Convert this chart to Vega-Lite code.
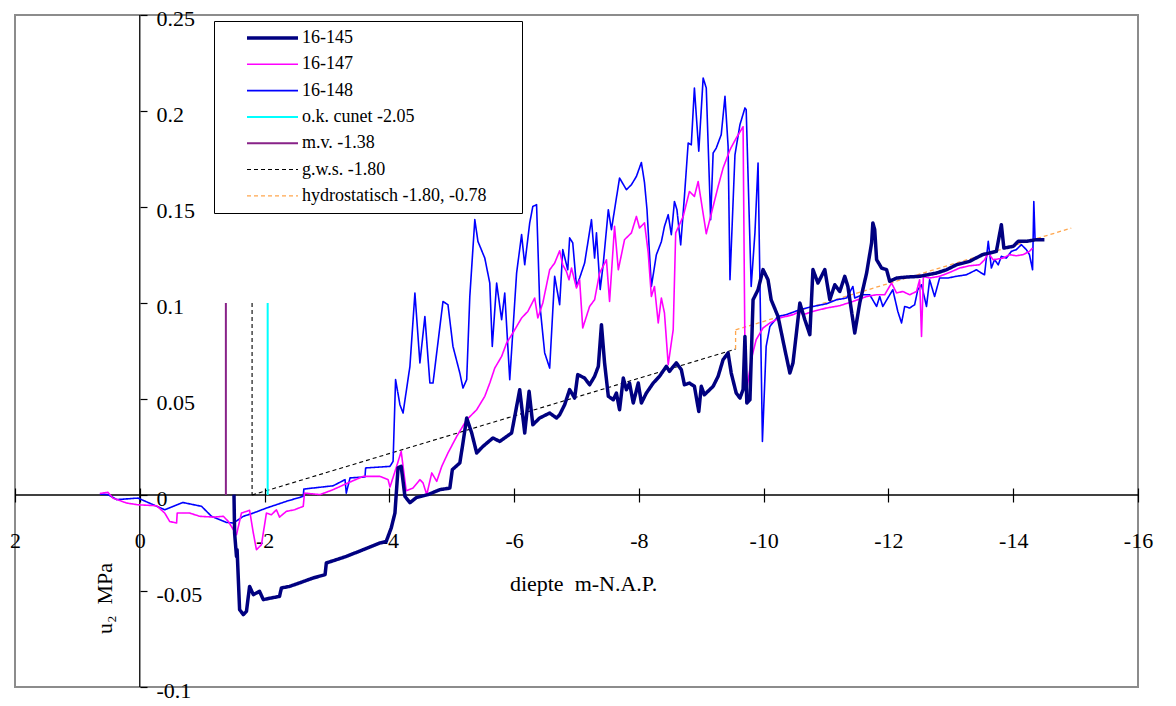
{
  "$schema": "https://vega.github.io/schema/vega-lite/v6.json",
  "width": 1123,
  "height": 672,
  "autosize": {"type": "none"},
  "padding": {"left": 15, "top": 15, "right": 38, "bottom": 19},
  "background": "white",
  "config": {
    "view": {"stroke": "#8c8c8c", "strokeWidth": 2},
    "font": "Liberation Serif",
    "axis": {
      "grid": false,
      "domain": false,
      "labelFont": "Liberation Serif",
      "titleFont": "Liberation Serif",
      "labelColor": "black",
      "titleColor": "black",
      "labelFontSize": 22,
      "titleFontSize": 22,
      "titleFontWeight": "normal",
      "tickColor": "black",
      "tickWidth": 1.2,
      "labelFlush": false,
      "labelOverlap": false
    },
    "legend": {
      "title": null,
      "orient": "none",
      "legendX": 199,
      "legendY": 6,
      "fillColor": "white",
      "strokeColor": "black",
      "padding": 8,
      "symbolType": "stroke",
      "symbolSize": 2601,
      "symbolOffset": 23,
      "clipHeight": 18,
      "rowPadding": 8.3,
      "labelFont": "Liberation Serif",
      "labelFontSize": 18,
      "labelColor": "black",
      "labelOffset": 2,
      "labelLimit": 400
    }
  },
  "layer": [
    {
      "data": {"values": [{}]},
      "mark": {"type": "rule", "color": "black", "strokeWidth": 1.3},
      "encoding": {"y": {"datum": 0, "type": "quantitative"}}
    },
    {
      "data": {"values": [{}]},
      "mark": {"type": "rule", "color": "black", "strokeWidth": 1.3},
      "encoding": {"x": {"datum": 0, "type": "quantitative"}}
    },
    {
      "data": {"values": [
        {"series": "g.w.s. -1.80", "part": "v", "depth": -1.8, "u": 0.1},
        {"series": "g.w.s. -1.80", "part": "v", "depth": -1.8, "u": 0},
        {"series": "g.w.s. -1.80", "part": "s", "depth": -1.8, "u": 0},
        {"series": "g.w.s. -1.80", "part": "s", "depth": -9.55, "u": 0.076},
        {"series": "hydrostatisch -1.80, -0.78", "part": "v", "depth": -9.55, "u": 0.076},
        {"series": "hydrostatisch -1.80, -0.78", "part": "v", "depth": -9.55, "u": 0.086},
        {"series": "hydrostatisch -1.80, -0.78", "part": "s", "depth": -9.55, "u": 0.086},
        {"series": "hydrostatisch -1.80, -0.78", "part": "s", "depth": -14.93, "u": 0.139},
        {"series": "o.k. cunet -2.05", "depth": -2.05, "u": 0},
        {"series": "o.k. cunet -2.05", "depth": -2.05, "u": 0.1},
        {"series": "m.v. -1.38", "depth": -1.38, "u": 0},
        {"series": "m.v. -1.38", "depth": -1.38, "u": 0.1},

        {"series": "16-148", "depth": 0.64, "u": 0.0005},
        {"series": "16-148", "depth": 0.51, "u": 0.0002},
        {"series": "16-148", "depth": 0.37, "u": -0.0024},
        {"series": "16-148", "depth": 0.03, "u": -0.0016},
        {"series": "16-148", "depth": -0.40, "u": -0.0077},
        {"series": "16-148", "depth": -0.69, "u": -0.0039},
        {"series": "16-148", "depth": -0.99, "u": -0.0059},
        {"series": "16-148", "depth": -1.15, "u": -0.0111},
        {"series": "16-148", "depth": -1.39, "u": -0.0143},
        {"series": "16-148", "depth": -1.50, "u": -0.0146},
        {"series": "16-148", "depth": -1.66, "u": -0.0111},
        {"series": "16-148", "depth": -1.82, "u": -0.0094},
        {"series": "16-148", "depth": -2.03, "u": -0.0068},
        {"series": "16-148", "depth": -2.35, "u": -0.0033},
        {"series": "16-148", "depth": -2.62, "u": -0.0007},
        {"series": "16-148", "depth": -2.63, "u": 0.0031},
        {"series": "16-148", "depth": -3.10, "u": 0.0048},
        {"series": "16-148", "depth": -3.29, "u": 0.0080},
        {"series": "16-148", "depth": -3.31, "u": 0.0010},
        {"series": "16-148", "depth": -3.37, "u": 0.0089},
        {"series": "16-148", "depth": -3.61, "u": 0.0094},
        {"series": "16-148", "depth": -3.62, "u": 0.0141},
        {"series": "16-148", "depth": -4.01, "u": 0.0149},
        {"series": "16-148", "depth": -4.06, "u": 0.0175},
        {"series": "16-148", "depth": -4.10, "u": 0.0601},
        {"series": "16-148", "depth": -4.17, "u": 0.0470},
        {"series": "16-148", "depth": -4.22, "u": 0.0427},
        {"series": "16-148", "depth": -4.33, "u": 0.0670},
        {"series": "16-148", "depth": -4.41, "u": 0.1052},
        {"series": "16-148", "depth": -4.49, "u": 0.0688},
        {"series": "16-148", "depth": -4.57, "u": 0.0930},
        {"series": "16-148", "depth": -4.65, "u": 0.0583},
        {"series": "16-148", "depth": -4.70, "u": 0.0583},
        {"series": "16-148", "depth": -4.86, "u": 0.1008},
        {"series": "16-148", "depth": -4.94, "u": 0.0991},
        {"series": "16-148", "depth": -5.02, "u": 0.0774},
        {"series": "16-148", "depth": -5.13, "u": 0.0635},
        {"series": "16-148", "depth": -5.18, "u": 0.0557},
        {"series": "16-148", "depth": -5.24, "u": 0.0601},
        {"series": "16-148", "depth": -5.29, "u": 0.1034},
        {"series": "16-148", "depth": -5.37, "u": 0.1434},
        {"series": "16-148", "depth": -5.42, "u": 0.1321},
        {"series": "16-148", "depth": -5.53, "u": 0.1234},
        {"series": "16-148", "depth": -5.61, "u": 0.1104},
        {"series": "16-148", "depth": -5.65, "u": 0.0774},
        {"series": "16-148", "depth": -5.72, "u": 0.1104},
        {"series": "16-148", "depth": -5.80, "u": 0.0913},
        {"series": "16-148", "depth": -5.85, "u": 0.1052},
        {"series": "16-148", "depth": -5.93, "u": 0.0601},
        {"series": "16-148", "depth": -6.04, "u": 0.1156},
        {"series": "16-148", "depth": -6.12, "u": 0.1356},
        {"series": "16-148", "depth": -6.17, "u": 0.1199},
        {"series": "16-148", "depth": -6.25, "u": 0.1417},
        {"series": "16-148", "depth": -6.30, "u": 0.1503},
        {"series": "16-148", "depth": -6.36, "u": 0.1512},
        {"series": "16-148", "depth": -6.41, "u": 0.1000},
        {"series": "16-148", "depth": -6.49, "u": 0.0740},
        {"series": "16-148", "depth": -6.57, "u": 0.0661},
        {"series": "16-148", "depth": -6.65, "u": 0.1139},
        {"series": "16-148", "depth": -6.73, "u": 0.0991},
        {"series": "16-148", "depth": -6.78, "u": 0.1278},
        {"series": "16-148", "depth": -6.86, "u": 0.1173},
        {"series": "16-148", "depth": -6.89, "u": 0.1339},
        {"series": "16-148", "depth": -6.94, "u": 0.1313},
        {"series": "16-148", "depth": -7.00, "u": 0.1086},
        {"series": "16-148", "depth": -7.05, "u": 0.1130},
        {"series": "16-148", "depth": -7.13, "u": 0.1208},
        {"series": "16-148", "depth": -7.24, "u": 0.1434},
        {"series": "16-148", "depth": -7.29, "u": 0.1234},
        {"series": "16-148", "depth": -7.32, "u": 0.1365},
        {"series": "16-148", "depth": -7.38, "u": 0.1070},
        {"series": "16-148", "depth": -7.43, "u": 0.1208},
        {"series": "16-148", "depth": -7.51, "u": 0.1486},
        {"series": "16-148", "depth": -7.56, "u": 0.1382},
        {"series": "16-148", "depth": -7.61, "u": 0.1486},
        {"series": "16-148", "depth": -7.69, "u": 0.1651},
        {"series": "16-148", "depth": -7.80, "u": 0.1590},
        {"series": "16-148", "depth": -7.88, "u": 0.1616},
        {"series": "16-148", "depth": -7.96, "u": 0.1659},
        {"series": "16-148", "depth": -8.04, "u": 0.1732},
        {"series": "16-148", "depth": -8.09, "u": 0.1627},
        {"series": "16-148", "depth": -8.13, "u": 0.1486},
        {"series": "16-148", "depth": -8.20, "u": 0.1086},
        {"series": "16-148", "depth": -8.28, "u": 0.1251},
        {"series": "16-148", "depth": -8.36, "u": 0.1319},
        {"series": "16-148", "depth": -8.41, "u": 0.1399},
        {"series": "16-148", "depth": -8.47, "u": 0.1460},
        {"series": "16-148", "depth": -8.52, "u": 0.1356},
        {"series": "16-148", "depth": -8.57, "u": 0.1529},
        {"series": "16-148", "depth": -8.61, "u": 0.1486},
        {"series": "16-148", "depth": -8.67, "u": 0.1303},
        {"series": "16-148", "depth": -8.73, "u": 0.1555},
        {"series": "16-148", "depth": -8.79, "u": 0.1833},
        {"series": "16-148", "depth": -8.84, "u": 0.1824},
        {"series": "16-148", "depth": -8.89, "u": 0.2120},
        {"series": "16-148", "depth": -8.96, "u": 0.1790},
        {"series": "16-148", "depth": -9.03, "u": 0.2172},
        {"series": "16-148", "depth": -9.08, "u": 0.2120},
        {"series": "16-148", "depth": -9.15, "u": 0.1434},
        {"series": "16-148", "depth": -9.19, "u": 0.1781},
        {"series": "16-148", "depth": -9.24, "u": 0.1807},
        {"series": "16-148", "depth": -9.32, "u": 0.1877},
        {"series": "16-148", "depth": -9.38, "u": 0.2076},
        {"series": "16-148", "depth": -9.43, "u": 0.1816},
        {"series": "16-148", "depth": -9.46, "u": 0.1121},
        {"series": "16-148", "depth": -9.54, "u": 0.1772},
        {"series": "16-148", "depth": -9.62, "u": 0.1929},
        {"series": "16-148", "depth": -9.70, "u": 0.2016},
        {"series": "16-148", "depth": -9.72, "u": 0.2007},
        {"series": "16-148", "depth": -9.80, "u": 0.1086},
        {"series": "16-148", "depth": -9.86, "u": 0.1365},
        {"series": "16-148", "depth": -9.91, "u": 0.1729},
        {"series": "16-148", "depth": -9.98, "u": 0.0279},
        {"series": "16-148", "depth": -10.04, "u": 0.0774},
        {"series": "16-148", "depth": -10.10, "u": 0.0878},
        {"series": "16-148", "depth": -10.23, "u": 0.0930},
        {"series": "16-148", "depth": -10.36, "u": 0.0939},
        {"series": "16-148", "depth": -10.58, "u": 0.0965},
        {"series": "16-148", "depth": -10.79, "u": 0.0982},
        {"series": "16-148", "depth": -11.01, "u": 0.0996},
        {"series": "16-148", "depth": -11.17, "u": 0.1017},
        {"series": "16-148", "depth": -11.33, "u": 0.1026},
        {"series": "16-148", "depth": -11.43, "u": 0.1086},
        {"series": "16-148", "depth": -11.46, "u": 0.1026},
        {"series": "16-148", "depth": -11.59, "u": 0.1043},
        {"series": "16-148", "depth": -11.70, "u": 0.1043},
        {"series": "16-148", "depth": -11.81, "u": 0.0982},
        {"series": "16-148", "depth": -11.86, "u": 0.1034},
        {"series": "16-148", "depth": -11.91, "u": 0.0982},
        {"series": "16-148", "depth": -11.99, "u": 0.1026},
        {"series": "16-148", "depth": -12.07, "u": 0.1069},
        {"series": "16-148", "depth": -12.15, "u": 0.0956},
        {"series": "16-148", "depth": -12.21, "u": 0.0896},
        {"series": "16-148", "depth": -12.26, "u": 0.0982},
        {"series": "16-148", "depth": -12.34, "u": 0.0974},
        {"series": "16-148", "depth": -12.42, "u": 0.0991},
        {"series": "16-148", "depth": -12.47, "u": 0.1069},
        {"series": "16-148", "depth": -12.53, "u": 0.1095},
        {"series": "16-148", "depth": -12.61, "u": 0.0982},
        {"series": "16-148", "depth": -12.66, "u": 0.1121},
        {"series": "16-148", "depth": -12.74, "u": 0.1034},
        {"series": "16-148", "depth": -12.82, "u": 0.1130},
        {"series": "16-148", "depth": -12.95, "u": 0.1130},
        {"series": "16-148", "depth": -13.09, "u": 0.1139},
        {"series": "16-148", "depth": -13.25, "u": 0.1147},
        {"series": "16-148", "depth": -13.41, "u": 0.1173},
        {"series": "16-148", "depth": -13.49, "u": 0.1156},
        {"series": "16-148", "depth": -13.54, "u": 0.1147},
        {"series": "16-148", "depth": -13.60, "u": 0.1321},
        {"series": "16-148", "depth": -13.65, "u": 0.1182},
        {"series": "16-148", "depth": -13.70, "u": 0.1226},
        {"series": "16-148", "depth": -13.76, "u": 0.1199},
        {"series": "16-148", "depth": -13.81, "u": 0.1243},
        {"series": "16-148", "depth": -13.89, "u": 0.1234},
        {"series": "16-148", "depth": -13.97, "u": 0.1269},
        {"series": "16-148", "depth": -14.05, "u": 0.1278},
        {"series": "16-148", "depth": -14.13, "u": 0.1304},
        {"series": "16-148", "depth": -14.21, "u": 0.1278},
        {"series": "16-148", "depth": -14.26, "u": 0.1252},
        {"series": "16-148", "depth": -14.31, "u": 0.1173},
        {"series": "16-148", "depth": -14.33, "u": 0.1529},
        {"series": "16-148", "depth": -14.35, "u": 0.1330},

        {"series": "16-147", "depth": 0.64, "u": 0.0008},
        {"series": "16-147", "depth": 0.51, "u": 0.0014},
        {"series": "16-147", "depth": 0.43, "u": -0.0016},
        {"series": "16-147", "depth": 0.21, "u": -0.0042},
        {"series": "16-147", "depth": 0.03, "u": -0.0051},
        {"series": "16-147", "depth": -0.27, "u": -0.0056},
        {"series": "16-147", "depth": -0.40, "u": -0.0094},
        {"series": "16-147", "depth": -0.48, "u": -0.0138},
        {"series": "16-147", "depth": -0.59, "u": -0.0146},
        {"series": "16-147", "depth": -0.60, "u": -0.0094},
        {"series": "16-147", "depth": -0.80, "u": -0.0094},
        {"series": "16-147", "depth": -0.96, "u": -0.0111},
        {"series": "16-147", "depth": -1.18, "u": -0.0115},
        {"series": "16-147", "depth": -1.34, "u": -0.0111},
        {"series": "16-147", "depth": -1.42, "u": -0.0138},
        {"series": "16-147", "depth": -1.55, "u": -0.0207},
        {"series": "16-147", "depth": -1.63, "u": -0.0094},
        {"series": "16-147", "depth": -1.76, "u": -0.0080},
        {"series": "16-147", "depth": -1.82, "u": -0.0198},
        {"series": "16-147", "depth": -1.87, "u": -0.0285},
        {"series": "16-147", "depth": -1.95, "u": -0.0259},
        {"series": "16-147", "depth": -2.03, "u": -0.0094},
        {"series": "16-147", "depth": -2.11, "u": -0.0103},
        {"series": "16-147", "depth": -2.19, "u": -0.0077},
        {"series": "16-147", "depth": -2.24, "u": -0.0115},
        {"series": "16-147", "depth": -2.35, "u": -0.0085},
        {"series": "16-147", "depth": -2.48, "u": -0.0077},
        {"series": "16-147", "depth": -2.62, "u": -0.0059},
        {"series": "16-147", "depth": -2.64, "u": 0.0010},
        {"series": "16-147", "depth": -2.89, "u": 0.0002},
        {"series": "16-147", "depth": -3.10, "u": 0.0028},
        {"series": "16-147", "depth": -3.31, "u": 0.0059},
        {"series": "16-147", "depth": -3.58, "u": 0.0097},
        {"series": "16-147", "depth": -3.85, "u": 0.0097},
        {"series": "16-147", "depth": -3.98, "u": 0.0080},
        {"series": "16-147", "depth": -4.01, "u": 0.0041},
        {"series": "16-147", "depth": -4.11, "u": 0.0142},
        {"series": "16-147", "depth": -4.19, "u": 0.0227},
        {"series": "16-147", "depth": -4.27, "u": 0.0022},
        {"series": "16-147", "depth": -4.38, "u": 0.0036},
        {"series": "16-147", "depth": -4.49, "u": 0.0080},
        {"series": "16-147", "depth": -4.54, "u": 0.0063},
        {"series": "16-147", "depth": -4.60, "u": 0.0002},
        {"series": "16-147", "depth": -4.68, "u": 0.0115},
        {"series": "16-147", "depth": -4.76, "u": 0.0071},
        {"series": "16-147", "depth": -4.84, "u": 0.0149},
        {"series": "16-147", "depth": -4.94, "u": 0.0219},
        {"series": "16-147", "depth": -5.08, "u": 0.0305},
        {"series": "16-147", "depth": -5.24, "u": 0.0392},
        {"series": "16-147", "depth": -5.40, "u": 0.0444},
        {"series": "16-147", "depth": -5.53, "u": 0.0514},
        {"series": "16-147", "depth": -5.61, "u": 0.0583},
        {"series": "16-147", "depth": -5.69, "u": 0.0661},
        {"series": "16-147", "depth": -5.80, "u": 0.0722},
        {"series": "16-147", "depth": -5.88, "u": 0.0792},
        {"series": "16-147", "depth": -5.98, "u": 0.0844},
        {"series": "16-147", "depth": -6.12, "u": 0.0922},
        {"series": "16-147", "depth": -6.22, "u": 0.0956},
        {"series": "16-147", "depth": -6.33, "u": 0.1026},
        {"series": "16-147", "depth": -6.38, "u": 0.0922},
        {"series": "16-147", "depth": -6.46, "u": 0.1000},
        {"series": "16-147", "depth": -6.57, "u": 0.1173},
        {"series": "16-147", "depth": -6.65, "u": 0.1208},
        {"series": "16-147", "depth": -6.73, "u": 0.1272},
        {"series": "16-147", "depth": -6.78, "u": 0.1199},
        {"series": "16-147", "depth": -6.84, "u": 0.1163},
        {"series": "16-147", "depth": -6.88, "u": 0.1121},
        {"series": "16-147", "depth": -6.92, "u": 0.1182},
        {"series": "16-147", "depth": -7.00, "u": 0.1078},
        {"series": "16-147", "depth": -7.05, "u": 0.1121},
        {"series": "16-147", "depth": -7.10, "u": 0.0870},
        {"series": "16-147", "depth": -7.21, "u": 0.0982},
        {"series": "16-147", "depth": -7.29, "u": 0.1017},
        {"series": "16-147", "depth": -7.37, "u": 0.1156},
        {"series": "16-147", "depth": -7.48, "u": 0.1225},
        {"series": "16-147", "depth": -7.53, "u": 0.1008},
        {"series": "16-147", "depth": -7.61, "u": 0.1399},
        {"series": "16-147", "depth": -7.67, "u": 0.1173},
        {"series": "16-147", "depth": -7.77, "u": 0.1330},
        {"series": "16-147", "depth": -7.88, "u": 0.1365},
        {"series": "16-147", "depth": -7.96, "u": 0.1451},
        {"series": "16-147", "depth": -8.01, "u": 0.1391},
        {"series": "16-147", "depth": -8.09, "u": 0.1417},
        {"series": "16-147", "depth": -8.15, "u": 0.1260},
        {"series": "16-147", "depth": -8.20, "u": 0.1034},
        {"series": "16-147", "depth": -8.25, "u": 0.1086},
        {"series": "16-147", "depth": -8.31, "u": 0.0896},
        {"series": "16-147", "depth": -8.36, "u": 0.1026},
        {"series": "16-147", "depth": -8.41, "u": 0.0948},
        {"series": "16-147", "depth": -8.47, "u": 0.0679},
        {"series": "16-147", "depth": -8.55, "u": 0.0861},
        {"series": "16-147", "depth": -8.59, "u": 0.1365},
        {"series": "16-147", "depth": -8.71, "u": 0.1451},
        {"series": "16-147", "depth": -8.81, "u": 0.1581},
        {"series": "16-147", "depth": -8.89, "u": 0.1555},
        {"series": "16-147", "depth": -8.95, "u": 0.1633},
        {"series": "16-147", "depth": -9.08, "u": 0.1361},
        {"series": "16-147", "depth": -9.19, "u": 0.1503},
        {"series": "16-147", "depth": -9.27, "u": 0.1607},
        {"series": "16-147", "depth": -9.35, "u": 0.1703},
        {"series": "16-147", "depth": -9.46, "u": 0.1798},
        {"series": "16-147", "depth": -9.56, "u": 0.1859},
        {"series": "16-147", "depth": -9.67, "u": 0.1918},
        {"series": "16-147", "depth": -9.70, "u": 0.0740},
        {"series": "16-147", "depth": -9.73, "u": 0.0548},
        {"series": "16-147", "depth": -9.80, "u": 0.0705},
        {"series": "16-147", "depth": -9.88, "u": 0.0809},
        {"series": "16-147", "depth": -9.99, "u": 0.0870},
        {"series": "16-147", "depth": -10.10, "u": 0.0896},
        {"series": "16-147", "depth": -10.26, "u": 0.0922},
        {"series": "16-147", "depth": -10.47, "u": 0.0939},
        {"series": "16-147", "depth": -10.58, "u": 0.0956},
        {"series": "16-147", "depth": -10.63, "u": 0.0939},
        {"series": "16-147", "depth": -10.79, "u": 0.0956},
        {"series": "16-147", "depth": -11.01, "u": 0.0974},
        {"series": "16-147", "depth": -11.22, "u": 0.0986},
        {"series": "16-147", "depth": -11.43, "u": 0.1008},
        {"series": "16-147", "depth": -11.65, "u": 0.1034},
        {"series": "16-147", "depth": -11.81, "u": 0.1043},
        {"series": "16-147", "depth": -11.94, "u": 0.1043},
        {"series": "16-147", "depth": -12.05, "u": 0.1104},
        {"series": "16-147", "depth": -12.13, "u": 0.1052},
        {"series": "16-147", "depth": -12.23, "u": 0.1060},
        {"series": "16-147", "depth": -12.34, "u": 0.1043},
        {"series": "16-147", "depth": -12.45, "u": 0.1060},
        {"series": "16-147", "depth": -12.50, "u": 0.1121},
        {"series": "16-147", "depth": -12.53, "u": 0.0826},
        {"series": "16-147", "depth": -12.56, "u": 0.1139},
        {"series": "16-147", "depth": -12.66, "u": 0.1130},
        {"series": "16-147", "depth": -12.82, "u": 0.1139},
        {"series": "16-147", "depth": -12.98, "u": 0.1159},
        {"series": "16-147", "depth": -13.14, "u": 0.1182},
        {"series": "16-147", "depth": -13.30, "u": 0.1194},
        {"series": "16-147", "depth": -13.46, "u": 0.1199},
        {"series": "16-147", "depth": -13.54, "u": 0.1225},
        {"series": "16-147", "depth": -13.60, "u": 0.1260},
        {"series": "16-147", "depth": -13.68, "u": 0.1225},
        {"series": "16-147", "depth": -13.84, "u": 0.1234},
        {"series": "16-147", "depth": -13.94, "u": 0.1252},
        {"series": "16-147", "depth": -14.05, "u": 0.1246},
        {"series": "16-147", "depth": -14.16, "u": 0.1252},
        {"series": "16-147", "depth": -14.26, "u": 0.1269},
        {"series": "16-147", "depth": -14.31, "u": 0.1286},

        {"series": "16-145", "depth": -1.51, "u": 0.0002},
        {"series": "16-145", "depth": -1.52, "u": -0.0198},
        {"series": "16-145", "depth": -1.55, "u": -0.0320},
        {"series": "16-145", "depth": -1.56, "u": -0.0285},
        {"series": "16-145", "depth": -1.60, "u": -0.0597},
        {"series": "16-145", "depth": -1.66, "u": -0.0623},
        {"series": "16-145", "depth": -1.71, "u": -0.0606},
        {"series": "16-145", "depth": -1.76, "u": -0.0476},
        {"series": "16-145", "depth": -1.82, "u": -0.0519},
        {"series": "16-145", "depth": -1.92, "u": -0.0502},
        {"series": "16-145", "depth": -1.98, "u": -0.0545},
        {"series": "16-145", "depth": -2.11, "u": -0.0536},
        {"series": "16-145", "depth": -2.24, "u": -0.0528},
        {"series": "16-145", "depth": -2.27, "u": -0.0484},
        {"series": "16-145", "depth": -2.40, "u": -0.0476},
        {"series": "16-145", "depth": -2.56, "u": -0.0458},
        {"series": "16-145", "depth": -2.78, "u": -0.0432},
        {"series": "16-145", "depth": -2.97, "u": -0.0415},
        {"series": "16-145", "depth": -2.99, "u": -0.0354},
        {"series": "16-145", "depth": -3.31, "u": -0.0320},
        {"series": "16-145", "depth": -3.58, "u": -0.0285},
        {"series": "16-145", "depth": -3.85, "u": -0.0250},
        {"series": "16-145", "depth": -3.95, "u": -0.0242},
        {"series": "16-145", "depth": -4.03, "u": -0.0172},
        {"series": "16-145", "depth": -4.09, "u": -0.0094},
        {"series": "16-145", "depth": -4.14, "u": 0.0142},
        {"series": "16-145", "depth": -4.19, "u": 0.0149},
        {"series": "16-145", "depth": -4.25, "u": -0.0007},
        {"series": "16-145", "depth": -4.33, "u": -0.0040},
        {"series": "16-145", "depth": -4.43, "u": -0.0014},
        {"series": "16-145", "depth": -4.62, "u": 0.0002},
        {"series": "16-145", "depth": -4.81, "u": 0.0028},
        {"series": "16-145", "depth": -4.97, "u": 0.0036},
        {"series": "16-145", "depth": -5.01, "u": 0.0132},
        {"series": "16-145", "depth": -5.13, "u": 0.0167},
        {"series": "16-145", "depth": -5.18, "u": 0.0271},
        {"series": "16-145", "depth": -5.24, "u": 0.0401},
        {"series": "16-145", "depth": -5.32, "u": 0.0323},
        {"series": "16-145", "depth": -5.40, "u": 0.0219},
        {"series": "16-145", "depth": -5.50, "u": 0.0253},
        {"series": "16-145", "depth": -5.66, "u": 0.0297},
        {"series": "16-145", "depth": -5.77, "u": 0.0279},
        {"series": "16-145", "depth": -5.96, "u": 0.0323},
        {"series": "16-145", "depth": -6.01, "u": 0.0409},
        {"series": "16-145", "depth": -6.09, "u": 0.0548},
        {"series": "16-145", "depth": -6.17, "u": 0.0323},
        {"series": "16-145", "depth": -6.24, "u": 0.0540},
        {"series": "16-145", "depth": -6.30, "u": 0.0366},
        {"series": "16-145", "depth": -6.41, "u": 0.0401},
        {"series": "16-145", "depth": -6.57, "u": 0.0427},
        {"series": "16-145", "depth": -6.68, "u": 0.0401},
        {"series": "16-145", "depth": -6.73, "u": 0.0418},
        {"series": "16-145", "depth": -6.81, "u": 0.0470},
        {"series": "16-145", "depth": -6.89, "u": 0.0549},
        {"series": "16-145", "depth": -6.97, "u": 0.0505},
        {"series": "16-145", "depth": -7.02, "u": 0.0627},
        {"series": "16-145", "depth": -7.13, "u": 0.0609},
        {"series": "16-145", "depth": -7.21, "u": 0.0574},
        {"series": "16-145", "depth": -7.29, "u": 0.0618},
        {"series": "16-145", "depth": -7.35, "u": 0.0670},
        {"series": "16-145", "depth": -7.40, "u": 0.0887},
        {"series": "16-145", "depth": -7.45, "u": 0.0688},
        {"series": "16-145", "depth": -7.51, "u": 0.0514},
        {"series": "16-145", "depth": -7.59, "u": 0.0496},
        {"series": "16-145", "depth": -7.64, "u": 0.0531},
        {"series": "16-145", "depth": -7.69, "u": 0.0444},
        {"series": "16-145", "depth": -7.75, "u": 0.0609},
        {"series": "16-145", "depth": -7.80, "u": 0.0548},
        {"series": "16-145", "depth": -7.85, "u": 0.0583},
        {"series": "16-145", "depth": -7.91, "u": 0.0479},
        {"series": "16-145", "depth": -7.99, "u": 0.0583},
        {"series": "16-145", "depth": -8.04, "u": 0.0479},
        {"series": "16-145", "depth": -8.12, "u": 0.0531},
        {"series": "16-145", "depth": -8.23, "u": 0.0583},
        {"series": "16-145", "depth": -8.33, "u": 0.0618},
        {"series": "16-145", "depth": -8.44, "u": 0.0670},
        {"series": "16-145", "depth": -8.49, "u": 0.0644},
        {"series": "16-145", "depth": -8.60, "u": 0.0688},
        {"series": "16-145", "depth": -8.68, "u": 0.0653},
        {"series": "16-145", "depth": -8.73, "u": 0.0574},
        {"series": "16-145", "depth": -8.81, "u": 0.0583},
        {"series": "16-145", "depth": -8.89, "u": 0.0566},
        {"series": "16-145", "depth": -8.96, "u": 0.0435},
        {"series": "16-145", "depth": -9.00, "u": 0.0566},
        {"series": "16-145", "depth": -9.05, "u": 0.0522},
        {"series": "16-145", "depth": -9.19, "u": 0.0566},
        {"series": "16-145", "depth": -9.27, "u": 0.0618},
        {"series": "16-145", "depth": -9.35, "u": 0.0705},
        {"series": "16-145", "depth": -9.43, "u": 0.0740},
        {"series": "16-145", "depth": -9.48, "u": 0.0635},
        {"series": "16-145", "depth": -9.56, "u": 0.0531},
        {"series": "16-145", "depth": -9.62, "u": 0.0505},
        {"series": "16-145", "depth": -9.67, "u": 0.0549},
        {"series": "16-145", "depth": -9.70, "u": 0.0826},
        {"series": "16-145", "depth": -9.73, "u": 0.0479},
        {"series": "16-145", "depth": -9.78, "u": 0.0496},
        {"series": "16-145", "depth": -9.83, "u": 0.1017},
        {"series": "16-145", "depth": -9.91, "u": 0.1069},
        {"series": "16-145", "depth": -9.99, "u": 0.1174},
        {"series": "16-145", "depth": -10.07, "u": 0.1121},
        {"series": "16-145", "depth": -10.12, "u": 0.1017},
        {"series": "16-145", "depth": -10.23, "u": 0.0930},
        {"series": "16-145", "depth": -10.34, "u": 0.0757},
        {"series": "16-145", "depth": -10.42, "u": 0.0635},
        {"series": "16-145", "depth": -10.47, "u": 0.0688},
        {"series": "16-145", "depth": -10.58, "u": 0.1000},
        {"series": "16-145", "depth": -10.66, "u": 0.0913},
        {"series": "16-145", "depth": -10.74, "u": 0.0835},
        {"series": "16-145", "depth": -10.79, "u": 0.1174},
        {"series": "16-145", "depth": -10.87, "u": 0.1104},
        {"series": "16-145", "depth": -10.98, "u": 0.1174},
        {"series": "16-145", "depth": -11.06, "u": 0.1017},
        {"series": "16-145", "depth": -11.14, "u": 0.1095},
        {"series": "16-145", "depth": -11.22, "u": 0.1060},
        {"series": "16-145", "depth": -11.30, "u": 0.1139},
        {"series": "16-145", "depth": -11.35, "u": 0.1086},
        {"series": "16-145", "depth": -11.46, "u": 0.0844},
        {"series": "16-145", "depth": -11.54, "u": 0.1000},
        {"series": "16-145", "depth": -11.65, "u": 0.1156},
        {"series": "16-145", "depth": -11.73, "u": 0.1313},
        {"series": "16-145", "depth": -11.75, "u": 0.1417},
        {"series": "16-145", "depth": -11.78, "u": 0.1382},
        {"series": "16-145", "depth": -11.81, "u": 0.1226},
        {"series": "16-145", "depth": -11.89, "u": 0.1182},
        {"series": "16-145", "depth": -11.97, "u": 0.1174},
        {"series": "16-145", "depth": -12.02, "u": 0.1113},
        {"series": "16-145", "depth": -12.13, "u": 0.1130},
        {"series": "16-145", "depth": -12.29, "u": 0.1135},
        {"series": "16-145", "depth": -12.50, "u": 0.1139},
        {"series": "16-145", "depth": -12.77, "u": 0.1156},
        {"series": "16-145", "depth": -12.93, "u": 0.1173},
        {"series": "16-145", "depth": -13.09, "u": 0.1199},
        {"series": "16-145", "depth": -13.30, "u": 0.1217},
        {"series": "16-145", "depth": -13.51, "u": 0.1252},
        {"series": "16-145", "depth": -13.73, "u": 0.1269},
        {"series": "16-145", "depth": -13.81, "u": 0.1408},
        {"series": "16-145", "depth": -13.85, "u": 0.1286},
        {"series": "16-145", "depth": -14.00, "u": 0.1295},
        {"series": "16-145", "depth": -14.08, "u": 0.1321},
        {"series": "16-145", "depth": -14.21, "u": 0.1321},
        {"series": "16-145", "depth": -14.37, "u": 0.1330},
        {"series": "16-145", "depth": -14.50, "u": 0.1330}
      ]},
      "mark": {"type": "line", "strokeJoin": "round", "strokeCap": "butt"},
      "encoding": {
        "x": {
          "field": "depth",
          "type": "quantitative",
          "scale": {"domain": [2, -16], "nice": false, "zero": false},
          "axis": {
            "values": [2, 0, -2, -4, -6, -8, -10, -12, -14, -16],
            "labelExpr": "replace(format(datum.value, '~g'), '\u2212', '-')",
            "offset": -199,
            "tickSize": 14,
            "labelPadding": 38,
            "labelBaseline": "middle",
            "title": "diepte\u00a0 m-N.A.P.",
            "titleX": 568,
            "titleY": 95,
            "titleBaseline": "middle"
          }
        },
        "y": {
          "field": "u",
          "type": "quantitative",
          "scale": {"domain": [-0.1, 0.25], "nice": false, "zero": false},
          "axis": {
            "values": [0.25, 0.2, 0.15, 0.1, 0.05, 0, -0.05, -0.1],
            "labelExpr": "replace(format(datum.value, '~g'), '\u2212', '-')",
            "offset": -132,
            "tickSize": 7,
            "labelPadding": -16,
            "labelAlign": "left",
            "labelBaseline": "middle",
            "labelOffset": 3,
            "title": "u₂\u00a0 MPa",
            "titleX": -43,
            "titleY": 583,
            "titleAngle": -90,
            "titleBaseline": "middle"
          }
        },
        "detail": {"field": "part"},
        "color": {
          "field": "series",
          "type": "nominal",
          "scale": {
            "domain": ["16-145", "16-147", "16-148", "o.k. cunet -2.05", "m.v. -1.38", "g.w.s. -1.80", "hydrostatisch -1.80, -0.78"],
            "range": ["#000080", "#ff00ff", "#0000ff", "#00ffff", "#882288", "#000000", "#ffa64d"]
          },
          "legend": {"labelExpr": "datum.label + '\u00a0\u00a0\u00a0\u00a0\u00a0\u00a0\u200b'"}
        },
        "strokeWidth": {
          "field": "series",
          "type": "nominal",
          "scale": {
            "type": "ordinal",
            "domain": ["16-145", "16-147", "16-148", "o.k. cunet -2.05", "m.v. -1.38", "g.w.s. -1.80", "hydrostatisch -1.80, -0.78"],
            "range": [3.5, 1.6, 1.6, 2, 2, 1.1, 1.3]
          },
          "legend": {"labelExpr": "datum.label + '\u00a0\u00a0\u00a0\u00a0\u00a0\u00a0\u200b'"}
        },
        "strokeDash": {
          "field": "series",
          "type": "nominal",
          "scale": {
            "domain": ["16-145", "16-147", "16-148", "o.k. cunet -2.05", "m.v. -1.38", "g.w.s. -1.80", "hydrostatisch -1.80, -0.78"],
            "range": [[1, 0], [1, 0], [1, 0], [1, 0], [1, 0], [4, 3], [4, 3]]
          },
          "legend": {"labelExpr": "datum.label + '\u00a0\u00a0\u00a0\u00a0\u00a0\u00a0\u200b'"}
        }
      }
    }
  ]
}
